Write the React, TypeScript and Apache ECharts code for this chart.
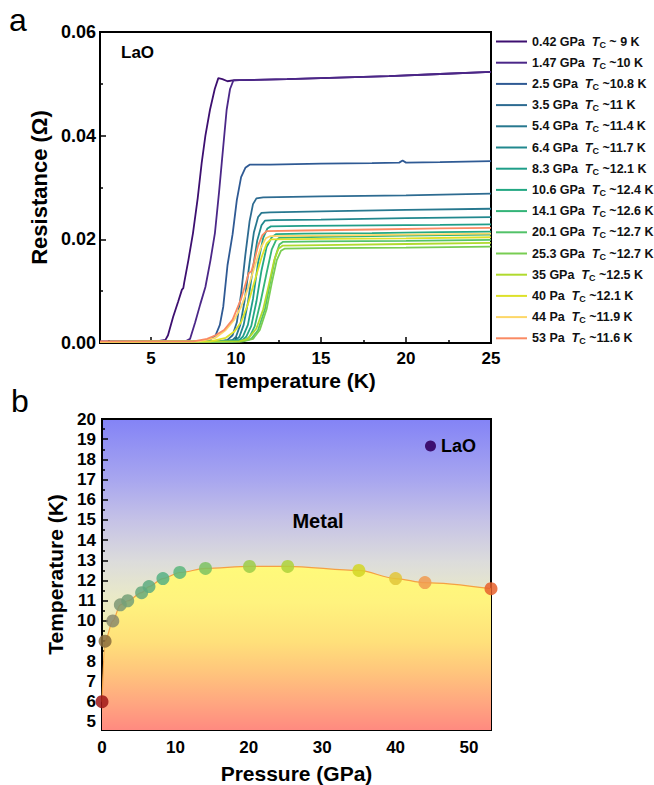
import React, { useEffect, useRef } from 'react';
import * as echarts from 'echarts';

// ---------- Panel a: R(T) curves ----------
const pressureLabels = ['0.42 GPa', '1.47 GPa', '2.5 GPa', '3.5 GPa', '5.4 GPa', '6.4 GPa', '8.3 GPa', '10.6 GPa', '14.1 GPa', '20.1 GPa', '25.3 GPa', '35 GPa', '40 Pa', '44 Pa', '53 Pa'];
const tcLabels = ['~ 9 K', '~10 K', '~10.8 K', '~11 K', '~11.4 K', '~11.7 K', '~12.1 K', '~12.4 K', '~12.6 K', '~12.7 K', '~12.7 K', '~12.5 K', '~12.1 K', '~11.9 K', '~11.6 K'];

const r0p42 = [[2, 0.0003], [4, 0.0003], [5.5, 0.0004], [5.85, 0.0006], [6.0, 0.0015], [6.3, 0.005], [6.6, 0.008], [6.82, 0.0103], [6.9, 0.0106], [6.95, 0.0116], [7.2, 0.016], [7.47, 0.0212], [7.75, 0.028], [7.98, 0.0347], [8.2, 0.04], [8.47, 0.045], [8.75, 0.049], [8.96, 0.0511], [9.2, 0.0509], [9.5, 0.0505], [9.9, 0.0507], [10.5, 0.0507], [13, 0.0509], [16, 0.0512], [19, 0.0515], [22, 0.0519], [25, 0.0523]];
const r1p47 = [[2, 0.0002], [5, 0.0002], [7.0, 0.0003], [7.3, 0.0008], [7.6, 0.004], [7.9, 0.0075], [8.2, 0.0108], [8.5, 0.016], [8.76, 0.0212], [9.0, 0.029], [9.16, 0.0347], [9.45, 0.045], [9.65, 0.049], [9.84, 0.0506], [10.2, 0.0507], [13, 0.0509], [16, 0.0512], [19, 0.0515], [22, 0.0519], [25, 0.0523]];
const r2p5 = [[2, 0.0002], [8.0, 0.0003], [8.5, 0.0007], [8.8, 0.0015], [9.05, 0.0035], [9.25, 0.007], [9.5, 0.015], [9.8, 0.021], [10.05, 0.0276], [10.3, 0.032], [10.55, 0.0338], [10.8, 0.0344], [12, 0.0344], [15, 0.0346], [18, 0.0347], [19.6, 0.0348], [19.8, 0.0352], [20, 0.0348], [22, 0.0349], [25, 0.0351]];
const r3p5 = [[2, 0.0002], [9.0, 0.0003], [9.5, 0.0006], [9.8, 0.0015], [10.05, 0.004], [10.3, 0.0095], [10.55, 0.017], [10.8, 0.0235], [11.0, 0.0268], [11.2, 0.0279], [11.6, 0.0281], [15, 0.0283], [20, 0.0285], [25, 0.0288]];
const r5p4 = [[2, 0.0002], [9.3, 0.0003], [9.8, 0.0006], [10.0, 0.0012], [10.25, 0.0035], [10.5, 0.008], [10.8, 0.0155], [11.05, 0.0213], [11.3, 0.0243], [11.5, 0.0251], [12, 0.0252], [15, 0.0254], [20, 0.0257], [25, 0.0259]];
const r6p4 = [[2, 0.0002], [9.5, 0.0003], [10.0, 0.0006], [10.2, 0.0012], [10.45, 0.0035], [10.7, 0.0078], [11.0, 0.0145], [11.25, 0.0198], [11.5, 0.0227], [11.7, 0.0236], [12.2, 0.0237], [15, 0.0238], [20, 0.0241], [25, 0.0243]];
const r8p3 = [[2, 0.0002], [9.8, 0.0003], [10.2, 0.0006], [10.4, 0.0012], [10.7, 0.0035], [11.0, 0.0085], [11.3, 0.0155], [11.6, 0.0203], [11.85, 0.0221], [12.05, 0.0225], [14, 0.0226], [18, 0.0227], [22, 0.0228], [25, 0.0229]];
const r10p6 = [[2, 0.0002], [10.0, 0.0003], [10.4, 0.0006], [10.6, 0.0012], [10.9, 0.0033], [11.2, 0.008], [11.5, 0.014], [11.8, 0.0185], [12.1, 0.0204], [12.35, 0.021], [14, 0.0211], [18, 0.0212], [22, 0.0214], [25, 0.0215]];
const r14p1 = [[2, 0.0002], [10.2, 0.0003], [10.6, 0.0006], [10.8, 0.0012], [11.1, 0.0032], [11.45, 0.008], [11.8, 0.0135], [12.1, 0.018], [12.35, 0.0198], [12.55, 0.0203], [15, 0.0205], [20, 0.0207], [25, 0.0209]];
const r20p1 = [[2, 0.0002], [10.3, 0.0003], [10.9, 0.0008], [11.3, 0.0025], [11.7, 0.0065], [12.0, 0.0115], [12.3, 0.0165], [12.55, 0.019], [12.75, 0.0195], [15, 0.0196], [20, 0.0197], [25, 0.0199]];
const r25p3 = [[2, 0.0002], [10.4, 0.0003], [11.0, 0.0008], [11.4, 0.0025], [11.8, 0.0065], [12.1, 0.0115], [12.4, 0.016], [12.65, 0.0178], [12.85, 0.0182], [15, 0.0183], [20, 0.0184], [25, 0.0186]];
const r35 = [[2, 0.0002], [10.2, 0.0003], [10.7, 0.0008], [11.2, 0.0028], [11.6, 0.0065], [11.95, 0.0115], [12.25, 0.016], [12.5, 0.0182], [12.75, 0.0188], [15, 0.0189], [20, 0.0191], [25, 0.0193]];
const r40 = [[2, 0.0002], [8.5, 0.0003], [9.4, 0.001], [9.9, 0.0022], [10.3, 0.004], [10.7, 0.0075], [11.1, 0.012], [11.5, 0.0165], [11.8, 0.0192], [12.05, 0.02], [15, 0.0201], [20, 0.0202], [25, 0.0204]];
const r44 = [[2, 0.0002], [7.8, 0.0003], [8.8, 0.001], [9.4, 0.0025], [9.9, 0.0045], [10.3, 0.007], [10.7, 0.0105], [11.1, 0.0148], [11.45, 0.0183], [11.75, 0.0202], [12.0, 0.0206], [15, 0.0207], [20, 0.0209], [25, 0.0211]];
const r53 = [[2, 0.0003], [7.5, 0.0003], [8.3, 0.0008], [8.8, 0.0015], [9.3, 0.0025], [9.8, 0.0045], [10.3, 0.0085], [10.75, 0.0135], [10.9, 0.0138], [11.05, 0.0155], [11.3, 0.0188], [11.55, 0.0208], [11.8, 0.0216], [14, 0.0217], [18, 0.0219], [22, 0.0221], [25, 0.0222]];

const curves = [r0p42, r1p47, r2p5, r3p5, r5p4, r6p4, r8p3, r10p6, r14p1, r20p1, r25p3, r35, r40, r44, r53];

const tempTicks = [5, 10, 15, 20, 25];
const tempMinorTicks = [2.5, 7.5, 12.5, 17.5, 22.5];
const resTicks = [0, 0.02, 0.04, 0.06];
const resMinorTicks = [0.01, 0.03, 0.05];

// ---------- Panel b: phase diagram ----------
const phasePressure = [0, 0.42, 1.47, 2.5, 3.5, 5.4, 6.4, 8.3, 10.6, 14.1, 20.1, 25.3, 35, 40, 44, 53];
const phaseTc = [6, 9, 10, 10.8, 11, 11.4, 11.7, 12.1, 12.4, 12.6, 12.7, 12.7, 12.5, 12.1, 11.9, 11.6];
const pressureTicks = [0, 10, 20, 30, 40, 50];
const pressureMinorTicks = [5, 15, 25, 35, 45];
const tcTicks = [5, 6, 7, 8, 9, 10, 11, 12, 13, 14, 15, 16, 17, 18, 19, 20];
const tcMinorTicks = [5.5, 6.5, 7.5, 8.5, 9.5, 10.5, 11.5, 12.5, 13.5, 14.5, 15.5, 16.5, 17.5, 18.5, 19.5];

// ---------- styles ----------
const curveColors = ['#3d0f70', '#4b2788', '#2f5a94', '#2d6b91', '#27788f', '#21888e', '#1f9e89', '#23a883', '#34b478', '#52c268', '#78cd52', '#b0da2e', '#dde12a', '#fdd768', '#fa8a63'];
const pointColors = ['#a01818', '#8a6c3c', '#8a8a6c', '#7c9874', '#74a078', '#66a87c', '#5eac80', '#56b084', '#5cb67c', '#7cc262', '#9ccc48', '#aed23a', '#d2d624', '#e2c63a', '#f09a50', '#e6602c'];
const FONT = '"Liberation Sans", Arial, Helvetica, sans-serif';

const seriesNames = pressureLabels.map((p, i) => `${p}  Tc ${tcLabels[i]}`);

function baseAxis(gridIndex: number, min: number, max: number, ticks: number[], fontSize: number, margin: number, fmt?: (v: number) => string) {
  return {
    type: 'value',
    gridIndex,
    min,
    max,
    axisLine: { show: true, onZero: false, lineStyle: { color: '#000', width: 2 } },
    axisTick: { show: true, inside: true, length: 6, lineStyle: { color: '#000', width: 1.5 }, customValues: ticks },
    axisLabel: {
      show: true,
      customValues: ticks,
      fontFamily: FONT,
      fontWeight: 'bold',
      fontSize,
      color: '#000',
      margin,
      formatter: fmt ? fmt : (v: number) => String(v),
    },
    splitLine: { show: false },
  };
}

function minorAxis(gridIndex: number, min: number, max: number, ticks: number[], position: string) {
  return {
    type: 'value',
    gridIndex,
    min,
    max,
    position,
    axisLine: { show: false, onZero: false },
    axisTick: { show: true, inside: true, length: 3, lineStyle: { color: '#000', width: 1.5 }, customValues: ticks },
    axisLabel: { show: false },
    splitLine: { show: false },
  };
}

export default function App() {
  const ref = useRef<HTMLDivElement>(null);

  useEffect(() => {
    if (!ref.current) return;
    const chart = echarts.init(ref.current, null, { renderer: 'svg' });

    const curveSeries = curves.map((d, i) => ({
      name: seriesNames[i],
      type: 'line',
      xAxisIndex: 0,
      yAxisIndex: 0,
      data: d,
      showSymbol: false,
      symbol: 'none',
      color: curveColors[i],
      lineStyle: { width: 1.8, color: curveColors[i] },
      z: 2 + i * 0.01,
    }));

    const phaseData = phasePressure.map((p, i) => [p, phaseTc[i]]);
    const scatterData = phasePressure.map((p, i) => ({
      value: [p, phaseTc[i]],
      itemStyle: { color: pointColors[i] },
    }));

    const option: any = {
      animation: false,
      grid: [
        { left: 100, top: 32, width: 391, height: 311, show: true, borderColor: '#000', borderWidth: 2, backgroundColor: '#fff' },
        {
          left: 102, top: 419, width: 389, height: 311, show: true, borderColor: '#000', borderWidth: 2,
          backgroundColor: new echarts.graphic.LinearGradient(0, 0, 0, 1, [
            { offset: 0, color: '#8383f6' },
            { offset: 0.2, color: '#a9a7ef' },
            { offset: 0.33, color: '#c6c3e6' },
            { offset: 0.46, color: '#dcdcdb' },
            { offset: 0.58, color: '#eaeac6' },
            { offset: 0.72, color: '#f5f0a8' },
            { offset: 1, color: '#ffd090' },
          ]),
        },
      ],
      xAxis: [
        {
          ...baseAxis(0, 2, 25, tempTicks, 17, 7),
          name: 'Temperature (K)',
          nameLocation: 'middle',
          nameGap: 27,
          nameTextStyle: { fontFamily: FONT, fontWeight: 'bold', fontSize: 21, color: '#000', verticalAlign: 'top' },
        },
        minorAxis(0, 2, 25, tempMinorTicks, 'bottom'),
        {
          ...baseAxis(1, 0, 53, pressureTicks, 17, 9),
          name: 'Pressure (GPa)',
          nameLocation: 'middle',
          nameGap: 33,
          nameTextStyle: { fontFamily: FONT, fontWeight: 'bold', fontSize: 21, color: '#000', verticalAlign: 'top' },
        },
        minorAxis(1, 0, 53, pressureMinorTicks, 'bottom'),
      ],
      yAxis: [
        {
          ...baseAxis(0, 0, 0.06, resTicks, 18, 4, (v: number) => v.toFixed(2)),
          name: 'Resistance (Ω)',
          nameLocation: 'middle',
          nameGap: 48,
          nameTextStyle: { fontFamily: FONT, fontWeight: 'bold', fontSize: 22, color: '#000' },
        },
        minorAxis(0, 0, 0.06, resMinorTicks, 'left'),
        {
          ...baseAxis(1, 4.6, 20, tcTicks, 17, 6),
          name: 'Temperature (K)',
          nameLocation: 'middle',
          nameGap: 32,
          nameTextStyle: { fontFamily: FONT, fontWeight: 'bold', fontSize: 21, color: '#000' },
        },
        minorAxis(1, 4.6, 20, tcMinorTicks, 'left'),
      ],
      legend: [
        {
          orient: 'vertical',
          left: 491,
          top: 29,
          itemWidth: 31,
          itemHeight: 2,
          itemGap: 6.2,
          icon: 'rect',
          selectedMode: false,
          data: seriesNames,
          formatter: (name: string) => {
            const i = seriesNames.indexOf(name);
            return `{n|${pressureLabels[i]}  }{i|T}{s|C}{n| ${tcLabels[i]}}`;
          },
          textStyle: {
            fontFamily: FONT,
            fontWeight: 'bold',
            fontSize: 12.5,
            color: '#111',
            lineHeight: 15,
            rich: {
              n: { fontFamily: FONT, fontWeight: 'bold', fontSize: 12.5, color: '#111', lineHeight: 15 },
              i: { fontFamily: FONT, fontWeight: 'bold', fontStyle: 'italic', fontSize: 12.5, color: '#111', lineHeight: 15 },
              s: { fontFamily: FONT, fontWeight: 'bold', fontSize: 9, color: '#111', lineHeight: 8, verticalAlign: 'bottom' },
            },
          },
        },
        {
          orient: 'horizontal',
          left: 420,
          top: 432,
          itemWidth: 11,
          itemHeight: 11,
          icon: 'circle',
          selectedMode: false,
          data: ['LaO'],
          itemStyle: { color: '#3d0f70', opacity: 1 },
          textStyle: { fontFamily: FONT, fontWeight: 'bold', fontSize: 18, color: '#000' },
        },
      ],
      graphic: [
        { type: 'text', left: 9, top: 4, style: { text: 'a', font: `normal 32px ${FONT}`, fill: '#000' } },
        { type: 'text', left: 11, top: 385, style: { text: 'b', font: `normal 32px ${FONT}`, fill: '#000' } },
        { type: 'text', left: 121, top: 44, style: { text: 'LaO', font: `bold 17px ${FONT}`, fill: '#000' } },
        { type: 'text', x: 318, y: 521, style: { text: 'Metal', font: `bold 20px ${FONT}`, fill: '#000', align: 'center', verticalAlign: 'middle' } },
        { type: 'text', x: 347, y: 620, style: { text: 'Superconducting', font: `bold 20px ${FONT}`, fill: '#000', align: 'center', verticalAlign: 'middle' } },
      ],
      series: [
        ...curveSeries,
        {
          name: 'fit',
          type: 'line',
          xAxisIndex: 2,
          yAxisIndex: 2,
          data: phaseData,
          smooth: 0.3,
          smoothMonotone: 'x',
          showSymbol: false,
          symbol: 'none',
          lineStyle: { color: '#f5a142', width: 1.2 },
          areaStyle: {
            origin: 'start',
            opacity: 1,
            color: new echarts.graphic.LinearGradient(0, 0, 0, 1, [
              { offset: 0, color: '#fffa7a' },
              { offset: 0.22, color: '#fff37e' },
              { offset: 0.46, color: '#ffe07a' },
              { offset: 0.64, color: '#ffc67c' },
              { offset: 0.83, color: '#ffa780' },
              { offset: 1, color: '#ff8a80' },
            ]),
          },
          z: 2,
        },
        {
          name: 'LaO',
          type: 'scatter',
          xAxisIndex: 2,
          yAxisIndex: 2,
          data: scatterData,
          symbolSize: 13,
          itemStyle: { color: '#3d0f70', opacity: 0.85 },
          clip: true,
          z: 3,
        },
      ],
    };

    chart.setOption(option);
    return () => chart.dispose();
  }, []);

  return <div ref={ref} style={{ position: 'absolute', left: 0, top: 0, width: 654, height: 785 }} />;
}
